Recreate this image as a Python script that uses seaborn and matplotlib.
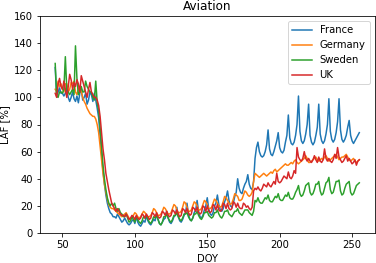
import numpy as np
import pandas as pd
import matplotlib
matplotlib.use("Agg")
import matplotlib.pyplot as plt
import seaborn as sns

doy_start, doy_end = 45, 255
countries = ["France", "Germany", "Sweden", "UK"]

france = [
    122, 101, 104, 107, 103, 103, 101,
    103, 106, 100, 97, 100, 104, 99,
    97, 101, 96, 103, 106, 98, 100,
    103, 95, 98, 104, 102, 97, 103,
    98, 92, 85, 72, 58, 46, 36,
    28, 22, 18, 15, 14, 12, 12,
    11, 14, 12, 10, 8, 9, 11,
    9, 7, 6, 7, 9, 10, 7,
    12, 8, 6, 5, 7, 9, 8,
    13, 9, 7, 6, 8, 10, 9,
    14, 10, 7, 6, 8, 10, 11,
    16, 11, 8, 7, 9, 12, 13,
    19, 12, 9, 8, 10, 13, 15,
    22, 14, 10, 9, 11, 15, 17,
    24, 16, 12, 11, 13, 17, 20,
    26, 18, 14, 13, 15, 20, 22,
    28, 21, 17, 16, 18, 23, 26,
    31, 24, 20, 19, 22, 27, 30,
    40, 33, 30, 29, 33, 36, 38,
    43, 36, 33, 32, 38, 55, 63,
    67, 60, 57, 56, 57, 60, 65,
    76, 62, 58, 57, 60, 64, 68,
    74, 63, 60, 59, 61, 67, 72,
    87, 70, 66, 65, 67, 72, 80,
    101, 75, 68, 66, 68, 73, 80,
    95, 72, 67, 65, 67, 72, 78,
    95, 73, 68, 66, 68, 73, 80,
    99, 75, 69, 67, 69, 74, 82,
    99, 76, 69, 67, 69, 72, 78,
    83, 72, 68, 66, 68, 70, 72,
    74,
]

germany = [
    106, 104, 112, 108, 110, 106, 104,
    110, 110, 104, 106, 111, 110, 112,
    104, 102, 106, 108, 104, 100, 97,
    95, 92, 90, 88, 87, 86, 86,
    84, 80, 74, 64, 54, 44, 36,
    30, 25, 21, 19, 18, 18, 17,
    16, 15, 14, 13, 12, 13, 14,
    15, 13, 11, 10, 11, 13, 15,
    14, 12, 11, 12, 14, 16, 15,
    13, 12, 12, 13, 15, 18, 17,
    15, 13, 13, 14, 16, 19, 18,
    16, 14, 14, 15, 18, 21, 20,
    17, 15, 15, 16, 19, 23, 22,
    19, 16, 16, 17, 20, 23, 22,
    20, 17, 17, 18, 21, 24, 23,
    21, 18, 18, 19, 22, 25, 24,
    22, 20, 19, 20, 23, 27, 26,
    24, 22, 21, 22, 25, 29, 28,
    27, 24, 24, 25, 28, 31, 30,
    28, 27, 28, 30, 38, 44, 43,
    42, 41, 42, 43, 44, 43, 42,
    43, 44, 45, 44, 46, 47, 45,
    46, 47, 48, 49, 50, 51, 50,
    50, 51, 52, 51, 53, 54, 52,
    51, 52, 53, 54, 55, 57, 55,
    52, 52, 53, 54, 55, 56, 54,
    53, 54, 55, 54, 56, 57, 55,
    53, 54, 55, 56, 57, 58, 56,
    54, 55, 56, 56, 57, 58, 56,
    54, 53, 54, 55, 53, 52, 53,
    54,
]

sweden = [
    125, 101, 100, 104, 104, 103, 106,
    130, 106, 104, 102, 104, 106, 102,
    138, 114, 102, 104, 108, 104, 104,
    112, 108, 106, 104, 104, 100, 98,
    112, 96, 90, 78, 64, 50, 40,
    32, 26, 22, 20, 22, 20, 22,
    18, 16, 18, 15, 14, 12, 12,
    14, 11, 8, 9, 12, 10, 8,
    12, 10, 8, 7, 9, 12, 11,
    13, 10, 8, 7, 9, 12, 11,
    13, 10, 7, 6, 8, 12, 12,
    14, 11, 9, 8, 10, 13, 13,
    15, 12, 10, 9, 11, 14, 14,
    15, 12, 10, 9, 11, 14, 14,
    16, 13, 11, 10, 12, 15, 15,
    16, 13, 12, 11, 12, 15, 15,
    17, 14, 12, 11, 13, 16, 16,
    17, 14, 13, 12, 14, 16, 16,
    18, 15, 14, 13, 15, 17, 17,
    17, 15, 14, 13, 16, 24, 23,
    26, 23, 22, 22, 24, 26, 25,
    28, 24, 23, 23, 25, 27, 26,
    29, 25, 24, 24, 26, 28, 27,
    30, 26, 25, 25, 27, 30, 32,
    35, 29, 27, 28, 31, 35, 36,
    37, 30, 28, 29, 32, 36, 36,
    38, 31, 28, 29, 33, 37, 38,
    41, 32, 29, 30, 34, 38, 38,
    39, 31, 28, 29, 33, 36, 37,
    38, 30, 28, 29, 32, 35, 36,
    37,
]

uk = [
    103, 100, 110, 114, 108, 106, 112,
    106, 100, 108, 117, 113, 106, 111,
    108, 113, 110, 104, 116, 112, 108,
    104, 100, 106, 111, 104, 102, 100,
    100, 98, 94, 86, 74, 62, 54,
    44, 38, 32, 27, 22, 20, 18,
    16, 18, 16, 14, 13, 13, 12,
    14, 12, 10, 11, 13, 12, 10,
    13, 11, 10, 11, 14, 13, 11,
    14, 12, 10, 11, 15, 14, 12,
    15, 12, 11, 12, 16, 15, 13,
    16, 13, 12, 13, 17, 16, 14,
    17, 14, 12, 13, 18, 17, 15,
    18, 15, 13, 14, 19, 18, 16,
    19, 15, 14, 15, 20, 19, 16,
    20, 16, 15, 16, 21, 20, 17,
    21, 17, 16, 17, 22, 21, 18,
    22, 18, 17, 18, 23, 22, 19,
    22, 19, 18, 18, 22, 21, 19,
    20, 18, 17, 19, 31, 33, 32,
    34, 32, 31, 33, 36, 35, 34,
    37, 35, 34, 36, 38, 36, 44,
    38, 37, 38, 40, 42, 41, 40,
    45, 41, 40, 42, 46, 44, 63,
    56, 54, 53, 55, 60, 55, 53,
    55, 53, 52, 54, 57, 54, 52,
    56, 53, 52, 54, 62, 55, 53,
    55, 53, 52, 54, 58, 55, 63,
    56, 54, 52, 53, 55, 57, 53,
    55, 53, 51, 52, 54, 50, 53,
    54,
]

doy = list(range(doy_start, doy_end + 1))
frames = []
for name, vals in zip(countries, [france, germany, sweden, uk]):
    frames.append(pd.DataFrame({"DOY": doy, "LAF": vals, "country": name}))
df = pd.concat(frames, ignore_index=True)

fig = plt.figure(figsize=(376 / 72, 263 / 72), dpi=72)
ax = fig.add_axes([40 / 376, 1 - 233 / 263, (374.5 - 40) / 376, (233 - 16) / 263])

palette = {"France": "#1f77b4", "Germany": "#ff7f0e", "Sweden": "#2ca02c", "UK": "#d62728"}
sns.lineplot(data=df, x="DOY", y="LAF", hue="country", palette=palette, ax=ax, linewidth=1.5)

ax.set_ylim(0, 160)
ax.set_yticks([0, 20, 40, 60, 80, 100, 120, 140, 160])
ax.set_xticks([50, 100, 150, 200, 250])
ax.set_xlabel("DOY")
ax.set_ylabel("LAF [%]")
ax.set_title("Aviation")
handles, labels = ax.get_legend_handles_labels()
ax.legend(handles, labels, loc="upper right")

fig.savefig("out.png", dpi=72)
